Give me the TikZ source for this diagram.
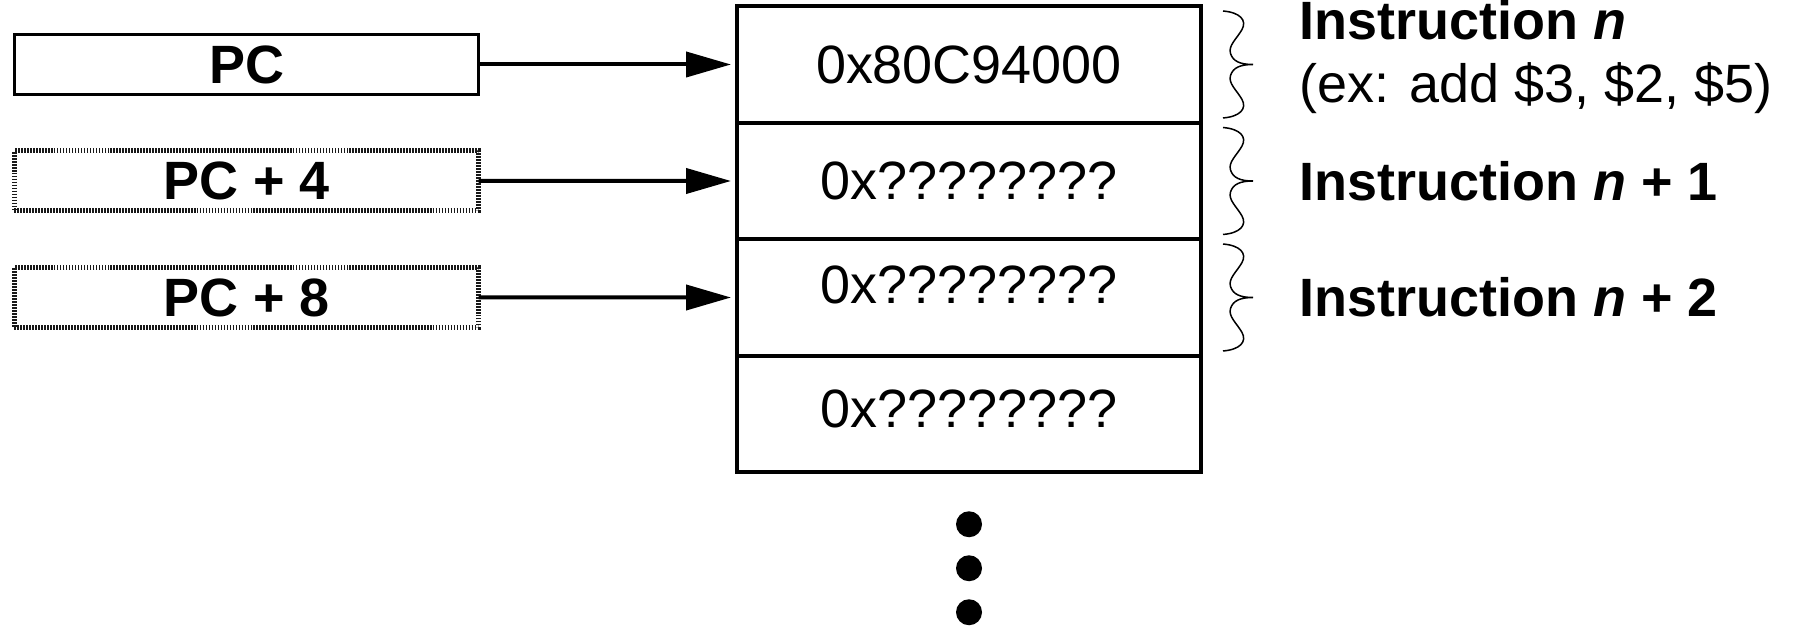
\documentclass[tikz,border=0pt]{standalone}
\usepackage{fontspec}
\setmainfont{Liberation Sans}
\usepackage{tikz}
\usetikzlibrary{arrows.meta,positioning}
\newcommand{\labelsize}{\fontsize{30.7}{35.9}\selectfont}

\begin{document}
\begin{tikzpicture}[
  pcbox/.style={
    draw, line width=0.07cm, outer sep=0pt,
    minimum width=9.28cm, minimum height=1.2cm, font=\labelsize\bfseries
  },
  hatched/.style={draw=black!90, line width=0.1cm, dash pattern=on 1pt off 0.7pt},
  cell/.style={
    draw, line width=0.08cm, outer sep=0pt,
    minimum width=9.28cm, minimum height=2.33cm, font=\labelsize
  },
  ptr/.style={-{Triangle[length=0.9cm,width=0.5cm]}, line width=0.08cm, shorten >=0.12cm},
  note/.style={anchor=west, inner sep=0pt, align=left, font=\labelsize},
  wbrace/.pic={
    \draw[line width=0.03cm]
      (-0.6,1.07) .. controls (-0.25,1.04) and (-0.12,0.88) .. (-0.22,0.7)
      .. controls (-0.32,0.52) and (-0.5,0.38) .. (-0.45,0.22)
      .. controls (-0.4,0.06) and (-0.25,0) .. (0,0)
      .. controls (-0.25,0) and (-0.4,-0.06) .. (-0.45,-0.22)
      .. controls (-0.5,-0.38) and (-0.32,-0.52) .. (-0.22,-0.7)
      .. controls (-0.12,-0.88) and (-0.25,-1.04) .. (-0.6,-1.07);
  }
]
  \useasboundingbox (0,0) rectangle (35.88,12.64);

  % program counter and the next two addresses
  \node[pcbox] (pc) at (4.93,11.35) {PC};
  \node[pcbox, hatched, below=1.13cm of pc] (pc4) {PC + 4};
  \node[pcbox, hatched, below=1.13cm of pc4] (pc8) {PC + 8};

  % memory words
  \node[cell] (m1) at (19.38,11.35) {0x80C94000};
  \node[cell, below=0pt of m1] (m2) {0x????????};
  \node[cell, below=0pt of m2] (m3) {\raisebox{0.26cm}[\height][\depth]{0x????????}};
  \node[cell, below=0pt of m3] (m4) {\raisebox{0.1cm}[\height][\depth]{0x????????}};

  \foreach \src/\dst in {pc/m1, pc4/m2, pc8/m3}
    \draw[ptr] (\src) -- (\dst);

  \foreach \m in {m1,m2,m3}
    \pic at ([xshift=1.04cm]\m.east) {wbrace};

  \node[note] (ins0) at ([xshift=1.96cm, yshift=0.14cm]m1.east)
    {\textbf{Instruction \textit{n}}\\(ex: add \$3, \$2, \$5)};
  \node[note, font=\labelsize\bfseries] (ins1) at ([xshift=1.96cm]m2.east)
    {Instruction \textit{n} + 1};
  \node[note, font=\labelsize\bfseries] (ins2) at ([xshift=1.96cm]m3.east)
    {Instruction \textit{n} + 2};

  % more words follow
  \foreach \d in {1.04cm,1.92cm,2.8cm}
    \fill ([yshift=-\d]m4.south) circle (0.26cm);
\end{tikzpicture}
\end{document}
